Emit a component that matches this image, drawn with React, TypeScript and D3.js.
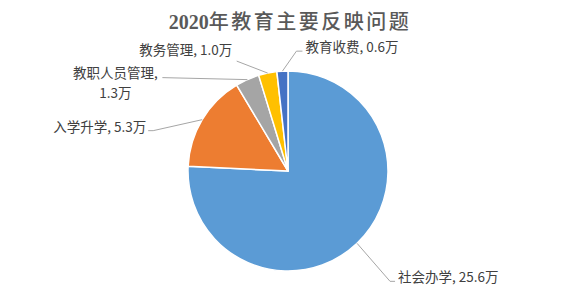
import React from "react";
import * as d3 from "d3";

const categories = ["社会办学", "入学升学", "教职人员管理", "教务管理", "教育收费"];
const values = [25.6, 5.3, 1.3, 1.0, 0.6];
const valueLabels = ["25.6万", "5.3万", "1.3万", "1.0万", "0.6万"];
const colors = ["#5B9BD5", "#ED7D31", "#A5A5A5", "#FFC000", "#4472C4"];
const title = "2020年教育主要反映问题";

const W = 576;
const H = 296;
const cx = 288;
const cy = 171;
const R = 100;

type LabelLayout = { elbow: [number, number]; end: [number, number]; tx: number; ty: number; anchor: "start" | "end" | "middle"; lines: string[] };

export default function App() {
  const pie = d3.pie<number>().value((d) => d).sort(null).startAngle(0).endAngle(2 * Math.PI);
  const arcs = pie(values);
  const arc = d3.arc<d3.PieArcDatum<number>>().innerRadius(0).outerRadius(R);

  const edge = (a: d3.PieArcDatum<number>) => {
    const m = (a.startAngle + a.endAngle) / 2;
    return [cx + R * Math.sin(m), cy - R * Math.cos(m)] as [number, number];
  };

  const layouts: LabelLayout[] = [
    { elbow: [33, 38], end: [38, 38], tx: 41, ty: 39, anchor: "start", lines: [`${categories[0]}, ${valueLabels[0]}`] },
    { elbow: [-49, 11], end: [-54, 11], tx: -56, ty: 12, anchor: "end", lines: [`${categories[1]}, ${valueLabels[1]}`] },
    { elbow: [-85, -2], end: [-85, -2], tx: -132, ty: -2, anchor: "middle", lines: [`${categories[2]},`, valueLabels[2]] },
    { elbow: [-31, -12], end: [-31, -12], tx: -82, ty: -18, anchor: "middle", lines: [`${categories[3]}, ${valueLabels[3]}`] },
    { elbow: [14, -20], end: [20, -20], tx: 23, ty: -19, anchor: "start", lines: [`${categories[4]}, ${valueLabels[4]}`] },
  ];

  const font = "'Noto Sans CJK SC', 'Noto Sans', sans-serif";

  return (
    <svg width={W} height={H} style={{ position: "absolute", left: 0, top: 0 }}>
      <rect width={W} height={H} fill="#fff" />
      <text x={cx + 2} y={29} textAnchor="middle" fill="#595959" fontSize={20} fontWeight={500} fontFamily={font}>
        <tspan fontFamily="'Liberation Serif', 'DejaVu Serif', serif" fontWeight="bold" fontSize={20}>{title.slice(0, 4)}</tspan>
        <tspan letterSpacing={2.5}>{title.slice(4)}</tspan>
      </text>
      <g>
        {arcs.map((a, i) => (
          <path key={i} d={arc(a) || ""} transform={`translate(${cx},${cy})`} fill={colors[i]} stroke="#fff" strokeWidth={1.5} strokeLinejoin="round" />
        ))}
      </g>
      <g>
        {arcs.map((a, i) => {
          const [ex, ey] = edge(a);
          const L = layouts[i];
          const pts: [number, number][] = [[ex, ey], [ex + L.elbow[0], ey + L.elbow[1]], [ex + L.end[0], ey + L.end[1]]];
          const line = d3.line()(pts) || "";
          return <path key={i} d={line} fill="none" stroke="#A6A6A6" strokeWidth={1} />;
        })}
      </g>
      <g fill="#404040" fontSize={13.5} fontFamily={font}>
        {arcs.map((a, i) => {
          const [ex, ey] = edge(a);
          const L = layouts[i];
          return (
            <text key={i} x={ex + L.tx} y={ey + L.ty} textAnchor={L.anchor}>
              {L.lines.map((s, j) => (
                <tspan key={j} x={ex + L.tx} dy={j === 0 ? 0 : 20}>{s}</tspan>
              ))}
            </text>
          );
        })}
      </g>
    </svg>
  );
}
